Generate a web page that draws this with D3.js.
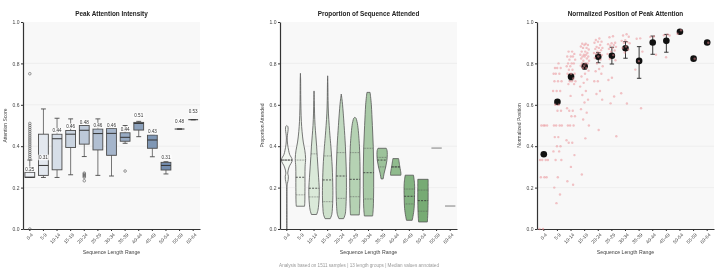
<!DOCTYPE html>
<html>
<head>
<meta charset="utf-8">
<script src="https://cdn.jsdelivr.net/npm/d3@7"></script>
<style>
  body { margin: 0; background: #fff; }
  svg { will-change: transform; }
  text { font-family: "Liberation Sans", Arial, Helvetica, sans-serif; }
</style>
</head>
<body>
<svg id="chart" width="718" height="271"></svg>
<script>
const groups = ["0-4", "5-9", "10-14", "15-19", "20-24", "25-29", "30-34", "35-39", "40-44", "45-49", "50-54", "55-59", "60-64"];
const yTicks = [0, 0.2, 0.4, 0.6, 0.8, 1.0];

// panel 1 - [whisker low, q1, median, q3, whisker high]
const intensityBoxes = [
  [0.25, 0.25, 0.25, 0.274, 0.333],
  [0.249, 0.259, 0.307, 0.458, 0.58],
  [0.249, 0.286, 0.436, 0.458, 0.535],
  [0.262, 0.394, 0.458, 0.476, 0.532],
  [0.35, 0.41, 0.477, 0.5, 0.5],
  [0.259, 0.382, 0.461, 0.483, 0.532],
  [0.256, 0.356, 0.462, 0.486, 0.486],
  [0.414, 0.424, 0.443, 0.465, 0.5],
  [0.446, 0.478, 0.51, 0.515, 0.52],
  [0.349, 0.39, 0.43, 0.454, 0.454],
  [0.266, 0.285, 0.307, 0.322, 0.325],
  [0.483, 0.483, 0.483, 0.483, 0.483],
  [0.528, 0.528, 0.528, 0.528, 0.528]
];
const intensityOutliers = [
  [0.34, 0.35, 0.36, 0.37, 0.38, 0.39, 0.40, 0.41, 0.42, 0.43, 0.44, 0.45, 0.46, 0.47, 0.48, 0.49, 0.50, 0.51, 0.75, 0.0],
  [], [], [],
  [0.27, 0.265, 0.26, 0.255, 0.25, 0.233],
  [], [],
  [0.28],
  [], [], [], [], []
];

// panel 2 - violin outlines as [value, relative half width]
const proportionProfiles = [
  [[0.0, 0.04], [0.2, 0.05], [0.22, 0.12], [0.24, 0.28], [0.255, 0.3], [0.27, 0.18], [0.3, 0.45], [0.333, 1.05], [0.36, 0.55], [0.38, 0.35], [0.41, 0.15], [0.44, 0.08], [0.46, 0.15], [0.48, 0.25], [0.495, 0.2], [0.5, 0]],
  [[0.11, 0.8], [0.13, 0.85], [0.2, 0.88], [0.3, 0.9], [0.34, 1], [0.38, 0.85], [0.42, 0.55], [0.47, 0.32], [0.52, 0.18], [0.58, 0.1], [0.65, 0.06], [0.72, 0.04], [0.752, 0]],
  [[0.07, 0.5], [0.09, 0.75], [0.12, 0.9], [0.16, 1], [0.2, 1], [0.25, 0.88], [0.3, 0.75], [0.35, 0.62], [0.4, 0.5], [0.45, 0.35], [0.5, 0.2], [0.56, 0.1], [0.62, 0.05], [0.667, 0]],
  [[0.05, 0.5], [0.07, 0.8], [0.1, 0.92], [0.15, 1], [0.2, 1], [0.3, 0.88], [0.4, 0.62], [0.45, 0.45], [0.5, 0.3], [0.56, 0.15], [0.62, 0.08], [0.7, 0.04], [0.74, 0]],
  [[0.05, 0.45], [0.07, 0.75], [0.1, 0.88], [0.2, 1], [0.3, 0.95], [0.4, 0.8], [0.5, 0.55], [0.56, 0.38], [0.6, 0.25], [0.63, 0.12], [0.652, 0]],
  [[0.068, 0.85], [0.1, 0.92], [0.2, 1], [0.3, 1], [0.4, 0.88], [0.45, 0.75], [0.5, 0.55], [0.52, 0.4], [0.535, 0.22], [0.54, 0]],
  [[0.063, 0.8], [0.1, 0.92], [0.2, 1], [0.3, 1], [0.4, 0.92], [0.5, 0.75], [0.6, 0.55], [0.64, 0.4], [0.66, 0.3]],
  [[0.242, 0.2], [0.27, 0.4], [0.3, 0.7], [0.33, 0.92], [0.36, 1], [0.38, 0.95], [0.39, 0.8]],
  [[0.26, 1], [0.27, 1], [0.3, 0.8], [0.34, 0.55]],
  [[0.042, 0.55], [0.06, 0.7], [0.1, 0.92], [0.15, 1], [0.22, 1], [0.26, 0.8]],
  [[0.034, 0.85], [0.08, 0.95], [0.15, 1], [0.2, 1], [0.24, 1]],
  null,
  null
];
// [q1, median, q3]
const proportionQuartiles = [
  [0.333, 0.333, 0.333],
  [0.165, 0.25, 0.333],
  [0.155, 0.197, 0.363],
  [0.132, 0.237, 0.353],
  [0.148, 0.256, 0.369],
  [0.156, 0.24, 0.369],
  [0.145, 0.272, 0.39],
  [0.30, 0.333, 0.346],
  [0.30, 0.30, 0.30],
  [0.121, 0.158, 0.193],
  [0.086, 0.137, 0.188],
  null,
  null
];
const proportionSingle = [null, null, null, null, null, null, null, null, null, null, null, 0.391, 0.111];

// panel 3
const positionMeans = [0.361, 0.614, 0.736, 0.786, 0.832, 0.837, 0.873, 0.812, 0.901, 0.909, 0.953, 0.823, 0.901];
const positionErrLow = [0.358, 0.608, 0.72, 0.772, 0.803, 0.797, 0.825, 0.728, 0.844, 0.854, null, null, null];
const positionErrHigh = [0.364, 0.62, 0.745, 0.8, 0.852, 0.878, 0.905, 0.881, 0.932, 0.94, null, null, null];
const positionSamples = [
  [0.5, 0.5, 0.5, 0.5, 0.333, 0.333, 0.333, 0.333, 0.25, 0.25, 0.25, 0.0, 0.0],
  [0.8, 0.778, 0.778, 0.778, 0.75, 0.75, 0.75, 0.714, 0.714, 0.714, 0.667, 0.667, 0.667, 0.6, 0.6, 0.571, 0.571, 0.5, 0.5, 0.5, 0.5, 0.444, 0.444, 0.4, 0.4, 0.375, 0.375, 0.333, 0.333, 0.25, 0.2, 0.167, 0.125],
  [0.857, 0.857, 0.846, 0.833, 0.833, 0.833, 0.818, 0.818, 0.8, 0.8, 0.8, 0.786, 0.786, 0.769, 0.769, 0.75, 0.75, 0.75, 0.727, 0.714, 0.714, 0.714, 0.7, 0.7, 0.643, 0.583, 0.571, 0.571, 0.545, 0.545, 0.5, 0.5, 0.5, 0.429, 0.417, 0.417, 0.357, 0.3, 0.231, 0.214],
  [0.895, 0.895, 0.889, 0.889, 0.882, 0.875, 0.875, 0.867, 0.857, 0.857, 0.85, 0.842, 0.842, 0.842, 0.833, 0.833, 0.833, 0.824, 0.824, 0.813, 0.813, 0.8, 0.8, 0.8, 0.789, 0.789, 0.778, 0.778, 0.765, 0.75, 0.737, 0.722, 0.706, 0.688, 0.667, 0.647, 0.625, 0.611, 0.579, 0.562, 0.529, 0.5, 0.438, 0.263],
  [0.92, 0.913, 0.905, 0.905, 0.9, 0.889, 0.88, 0.875, 0.875, 0.87, 0.864, 0.857, 0.85, 0.85, 0.846, 0.84, 0.833, 0.826, 0.818, 0.8, 0.786, 0.773, 0.762, 0.75, 0.714, 0.714, 0.667, 0.652, 0.625, 0.478],
  [0.931, 0.926, 0.9, 0.897, 0.893, 0.889, 0.885, 0.88, 0.875, 0.87, 0.862, 0.857, 0.846, 0.84, 0.821, 0.815, 0.731, 0.72, 0.64, 0.607, 0.448],
  [0.941, 0.935, 0.929, 0.912, 0.909, 0.903, 0.9, 0.897, 0.882, 0.875, 0.867, 0.853, 0.656, 0.606],
  [0.921, 0.919, 0.857, 0.811, 0.77, 0.583],
  [0.93, 0.928, 0.842],
  [0.94, 0.936, 0.935, 0.83],
  [0.96, 0.943],
  [0.823],
  [0.9]
];

const svg = d3.select('#chart');
svg.append('rect').attr('width', 718).attr('height', 271).attr('fill', '#fff');

const plotTop = 22, plotBottom = 229, plotW = 177;
const panelLefts = [23, 280, 537];

function makePanel(left, title, yLabel) {
  const g = svg.append('g').attr('transform', 'translate(' + left + ',0)');
  const x = d3.scaleBand().domain(groups).range([0, plotW]);
  const y = d3.scaleLinear().domain([0, 1]).range([plotBottom, plotTop]);

  g.append('rect')
    .attr('x', 0).attr('y', plotTop)
    .attr('width', plotW).attr('height', plotBottom - plotTop)
    .attr('fill', '#f8f8f8');

  g.append('g').selectAll('line')
    .data(yTicks.slice(1, -1))
    .join('line')
      .attr('x1', 0).attr('x2', plotW)
      .attr('y1', d => y(d)).attr('y2', d => y(d))
      .attr('stroke', '#ebebeb')
      .attr('stroke-width', 0.7);

  const yAxis = g.append('g')
    .call(d3.axisLeft(y).tickValues(yTicks).tickFormat(d3.format('.1f')).tickSize(2).tickSizeOuter(0));
  yAxis.select('.domain').attr('stroke', '#333').attr('stroke-width', 1.2);
  yAxis.selectAll('.tick line').attr('stroke', '#333');
  yAxis.selectAll('text').attr('x', -3.5).attr('fill', '#444').style('font-size', '5px');

  const xAxis = g.append('g')
    .attr('transform', 'translate(0,' + plotBottom + ')')
    .call(d3.axisBottom(x).tickSize(2).tickSizeOuter(0));
  xAxis.select('.domain').attr('stroke', '#333').attr('stroke-width', 1.2);
  xAxis.selectAll('.tick line').attr('stroke', '#333');
  xAxis.selectAll('text')
    .attr('x', 0).attr('y', 0).attr('dy', '0.35em')
    .attr('transform', 'translate(2.5,5) rotate(-45)')
    .attr('fill', '#444')
    .style('text-anchor', 'end')
    .style('font-size', '4.8px');

  g.append('text')
    .attr('x', plotW / 2).attr('y', 16)
    .attr('text-anchor', 'middle')
    .attr('fill', '#222')
    .style('font-size', '6.4px').style('font-weight', 'bold')
    .text(title);

  g.append('text')
    .attr('x', plotW / 2).attr('y', 254)
    .attr('text-anchor', 'middle')
    .attr('fill', '#444')
    .style('font-size', '5.2px')
    .text('Sequence Length Range');

  g.append('text')
    .attr('transform', 'translate(-16,' + ((plotTop + plotBottom) / 2) + ') rotate(-90)')
    .attr('text-anchor', 'middle')
    .attr('fill', '#444')
    .style('font-size', '5px')
    .text(yLabel);

  return { g, x, y };
}

// ---------- Panel 1: box plots
{
  const { g, x, y } = makePanel(panelLefts[0], 'Peak Attention Intensity', 'Attention Score');
  const bw = x.bandwidth();
  const boxW = bw * 0.72;
  const boxColor = i => d3.interpolateRgb('#eff2f6', '#5a789f')(i / 12);
  const fmt = d3.format('.2f');
  const edge = '#4a4a4a';

  const box = g.append('g').selectAll('g')
    .data(intensityBoxes)
    .join('g')
      .attr('transform', (d, i) => 'translate(' + (x(groups[i]) + bw / 2) + ',0)');

  box.append('line')
    .attr('y1', d => y(d[0])).attr('y2', d => y(d[1]))
    .attr('stroke', '#666').attr('stroke-width', 0.9);
  box.append('line')
    .attr('y1', d => y(d[3])).attr('y2', d => y(d[4]))
    .attr('stroke', '#666').attr('stroke-width', 0.9);
  box.append('line')
    .attr('x1', -boxW / 4).attr('x2', boxW / 4)
    .attr('y1', d => y(d[0])).attr('y2', d => y(d[0]))
    .attr('stroke', edge).attr('stroke-width', 0.9);
  box.append('line')
    .attr('x1', -boxW / 4).attr('x2', boxW / 4)
    .attr('y1', d => y(d[4])).attr('y2', d => y(d[4]))
    .attr('stroke', edge).attr('stroke-width', 0.9);

  box.append('rect')
    .attr('x', -boxW / 2).attr('width', boxW)
    .attr('y', d => y(d[3]))
    .attr('height', d => y(d[1]) - y(d[3]))
    .attr('fill', (d, i) => boxColor(i))
    .attr('stroke', edge).attr('stroke-width', 0.9);

  box.append('line')
    .attr('x1', -boxW / 2).attr('x2', boxW / 2)
    .attr('y1', d => y(d[2])).attr('y2', d => y(d[2]))
    .attr('stroke', '#333').attr('stroke-width', 1);

  box.each(function(d, i) {
    d3.select(this).selectAll('circle')
      .data(intensityOutliers[i])
      .join('circle')
        .attr('cy', v => y(v))
        .attr('r', 1.3)
        .attr('fill', 'none')
        .attr('stroke', '#555')
        .attr('stroke-width', 0.6);
  });

  // median labels
  box.each(function(d) {
    const sel = d3.select(this);
    const t = sel.append('text')
      .attr('y', y(d[2]) - 6.5)
      .attr('text-anchor', 'middle')
      .attr('fill', '#333')
      .style('font-size', '4.6px')
      .text(fmt(d[2]));
    const bb = t.node().getBBox();
    sel.insert('rect', 'text')
      .attr('x', bb.x - 0.8).attr('y', bb.y - 0.3)
      .attr('width', bb.width + 1.6).attr('height', bb.height + 0.6)
      .attr('fill', '#fff').attr('opacity', 0.75);
  });
}

// ---------- Panel 2: violins
{
  const { g, x, y } = makePanel(panelLefts[1], 'Proportion of Sequence Attended', 'Proportion Attended');
  const bw = x.bandwidth();
  const hw = bw * 0.38;
  const violinColor = i => d3.interpolateRgb('#f3f8f2', '#5e9c5b')(i / 12);

  const widthAt = (profile, v) => {
    for (let k = 1; k < profile.length; k++) {
      const a = profile[k - 1], b = profile[k];
      if (v >= a[0] && v <= b[0]) {
        const t = (v - a[0]) / (b[0] - a[0] || 1);
        return a[1] + t * (b[1] - a[1]);
      }
    }
    return 0;
  };

  proportionProfiles.forEach((profile, i) => {
    const cx = x(groups[i]) + bw / 2;
    if (profile) {
      const area = d3.area()
        .y(d => y(d[0]))
        .x0(d => cx - d[1] * hw)
        .x1(d => cx + d[1] * hw)
        .curve(d3.curveCatmullRom);
      g.append('path')
        .datum(profile)
        .attr('d', area)
        .attr('fill', violinColor(i))
        .attr('stroke', '#555')
        .attr('stroke-width', 0.8);

      const q = proportionQuartiles[i];
      q.forEach((v, k) => {
        const w = widthAt(profile, v) * hw;
        g.append('line')
          .attr('x1', cx - w).attr('x2', cx + w)
          .attr('y1', y(v)).attr('y2', y(v))
          .attr('stroke', k === 1 ? '#333' : '#555')
          .attr('stroke-width', k === 1 ? 0.8 : 0.6)
          .attr('stroke-dasharray', k === 1 ? '2,1.2' : '0.9,0.7');
      });
    } else {
      const v = proportionSingle[i];
      g.append('line')
        .attr('x1', cx - hw).attr('x2', cx + hw)
        .attr('y1', y(v)).attr('y2', y(v))
        .attr('stroke', '#8a8a8a')
        .attr('stroke-width', 1.1);
    }
  });
}

// ---------- Panel 3: means, error bars, samples
{
  const { g, x, y } = makePanel(panelLefts[2], 'Normalized Position of Peak Attention', 'Normalized Position');
  const bw = x.bandwidth();
  const jitter = bw * 0.34;
  const cap = 2.2;

  const errG = g.append('g');
  positionMeans.forEach((m, i) => {
    const cx = x(groups[i]) + bw / 2;
    const lo = positionErrLow[i], hi = positionErrHigh[i];
    if (lo !== null) {
      errG.append('line').attr('x1', cx).attr('x2', cx).attr('y1', y(lo)).attr('y2', y(hi))
        .attr('stroke', '#222').attr('stroke-width', 0.9);
      [lo, hi].forEach(v => {
        errG.append('line').attr('x1', cx - cap).attr('x2', cx + cap).attr('y1', y(v)).attr('y2', y(v))
          .attr('stroke', '#222').attr('stroke-width', 0.9);
      });
    }
  });

  g.append('g').selectAll('circle')
    .data(positionMeans)
    .join('circle')
      .attr('cx', (d, i) => x(groups[i]) + bw / 2)
      .attr('cy', d => y(d))
      .attr('r', 3.3)
      .attr('fill', '#111');

  const ptsG = g.append('g');
  positionSamples.forEach((vals, i) => {
    const cx = x(groups[i]) + bw / 2;
    ptsG.selectAll(null)
      .data(vals)
      .join('circle')
        .attr('cx', (v, j) => cx + ((((j + 1) * 0.618034) % 1) - 0.5) * 2 * jitter)
        .attr('cy', v => y(v))
        .attr('r', 1.2)
        .attr('fill', '#e98a90')
        .attr('opacity', 0.5);
  });
}

svg.append('text')
  .attr('x', 359).attr('y', 267)
  .attr('text-anchor', 'middle')
  .attr('fill', '#999')
  .style('font-size', '4.6px')
  .text('Analysis based on 1511 samples | 13 length groups | Median values annotated');
</script>
</body>
</html>
